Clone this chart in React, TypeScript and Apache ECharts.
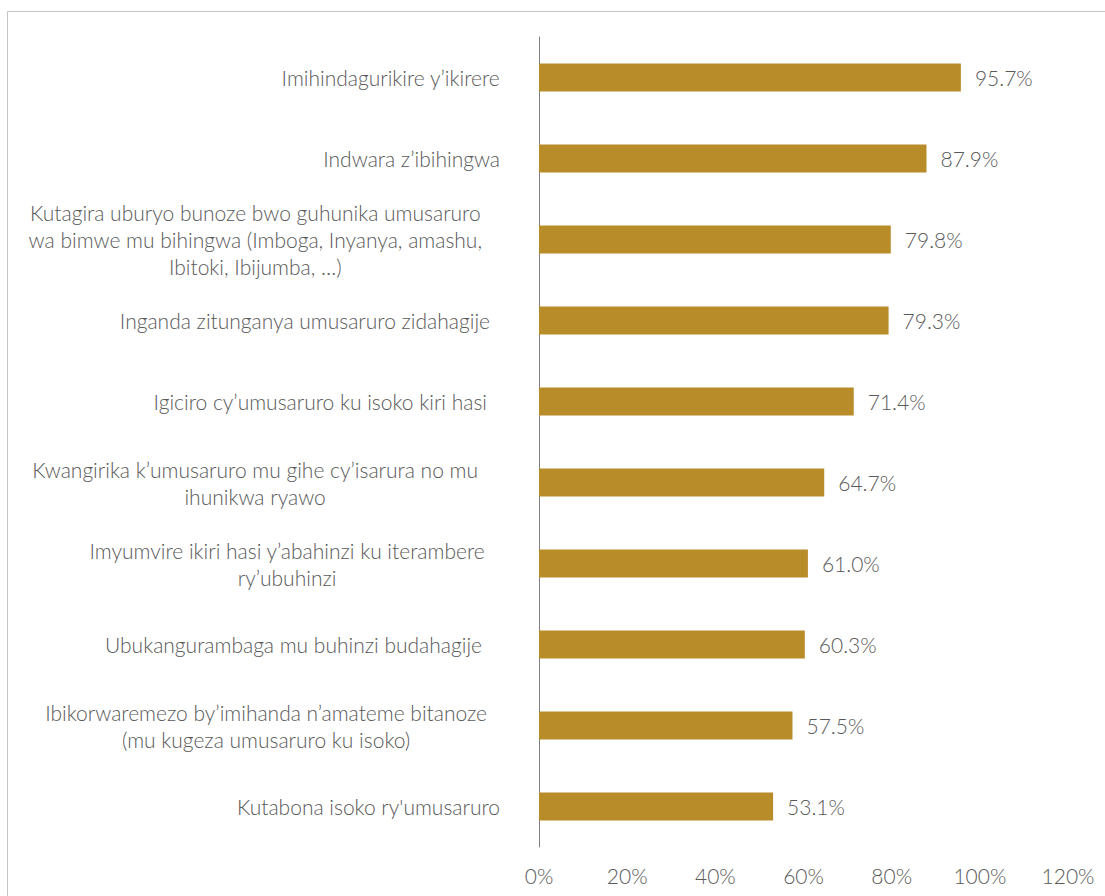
import React, { useEffect, useRef } from "react";
import * as echarts from "echarts";

const categories: string[] = [
  "Imihindagurikire y’ikirere",
  "Indwara z’ibihingwa",
  "Kutagira uburyo bunoze bwo guhunika umusaruro\nwa bimwe mu bihingwa (Imboga, Inyanya, amashu,\nIbitoki, Ibijumba, …)",
  "Inganda zitunganya umusaruro zidahagije",
  "Igiciro cy’umusaruro ku isoko kiri hasi",
  "Kwangirika k’umusaruro mu gihe cy’isarura no mu\nihunikwa ryawo",
  "Imyumvire ikiri hasi y’abahinzi ku iterambere\nry’ubuhinzi",
  "Ubukangurambaga mu buhinzi budahagije",
  "Ibikorwaremezo by’imihanda n’amateme bitanoze\n(mu kugeza umusaruro ku isoko)",
  "Kutabona isoko ry'umusaruro",
];

const values: number[] = [95.7, 87.9, 79.8, 79.3, 71.4, 64.7, 61.0, 60.3, 57.5, 53.1];

const xTicks = { min: 0, max: 120, interval: 20 };

// right-side padding of each category label block (layout only)
const labelPad: number[] = [0, 0, 18, 10, 13, 22, 15, 18, 13, 0];

const TEXT = "#595959";
const FONT = "Lato";
const FS = 21;

export default function App() {
  const ref = useRef<HTMLDivElement>(null);
  useEffect(() => {
    if (!ref.current) return;
    const chart = echarts.init(ref.current, undefined, { renderer: "svg" });
    const rich: Record<string, any> = {};
    labelPad.forEach((p, i) => {
      rich[`c${i}`] = {
        align: "center",
        fontSize: FS,
        fontFamily: FONT,
        fontWeight: 300,
        color: TEXT,
        lineHeight: 27,
        padding: [0, p, 0, 0],
      };
    });
    chart.setOption({
      animation: false,
      backgroundColor: "#ffffff",
      graphic: [
        {
          type: "rect",
          z: -10,
          silent: true,
          shape: { x: 7.5, y: 11.5, width: 1200, height: 1000 },
          style: { fill: "none", stroke: "#c4c4c4", lineWidth: 1 },
        },
      ],
      grid: { left: 539, right: 37, top: 37, bottom: 49, containLabel: false },
      xAxis: {
        type: "value",
        min: xTicks.min,
        max: xTicks.max,
        interval: xTicks.interval,
        axisLine: { show: false },
        axisTick: { show: false },
        splitLine: { show: false },
        axisLabel: {
          formatter: "{value}%",
          margin: 18,
          fontSize: FS,
          fontFamily: FONT,
          fontWeight: 300,
          color: TEXT,
        },
      },
      yAxis: {
        type: "category",
        inverse: true,
        data: categories,
        axisLine: { show: true, lineStyle: { color: "#808080", width: 1 } },
        axisTick: { show: false },
        axisLabel: {
          margin: 39,
          align: "right",
          fontSize: FS,
          fontFamily: FONT,
          fontWeight: 300,
          color: TEXT,
          lineHeight: 27,
          formatter: (v: string, idx: number) =>
            v
              .split("\n")
              .map((l) => `{c${idx}|${l}}`)
              .join("\n"),
          rich,
        },
      },
      series: [
        {
          type: "bar",
          data: values,
          barWidth: 28,
          itemStyle: { color: "#B98C2A" },
          label: {
            show: true,
            position: "right",
            distance: 14,
            formatter: (p: any) => `${Number(p.value).toFixed(1)}%`,
            fontSize: FS,
            fontFamily: FONT,
            fontWeight: 300,
            color: TEXT,
          },
        },
      ],
    });
    return () => chart.dispose();
  }, []);
  return (
    <div
      ref={ref}
      style={{ position: "fixed", left: 0, top: 0, width: 1105, height: 896 }}
    />
  );
}
